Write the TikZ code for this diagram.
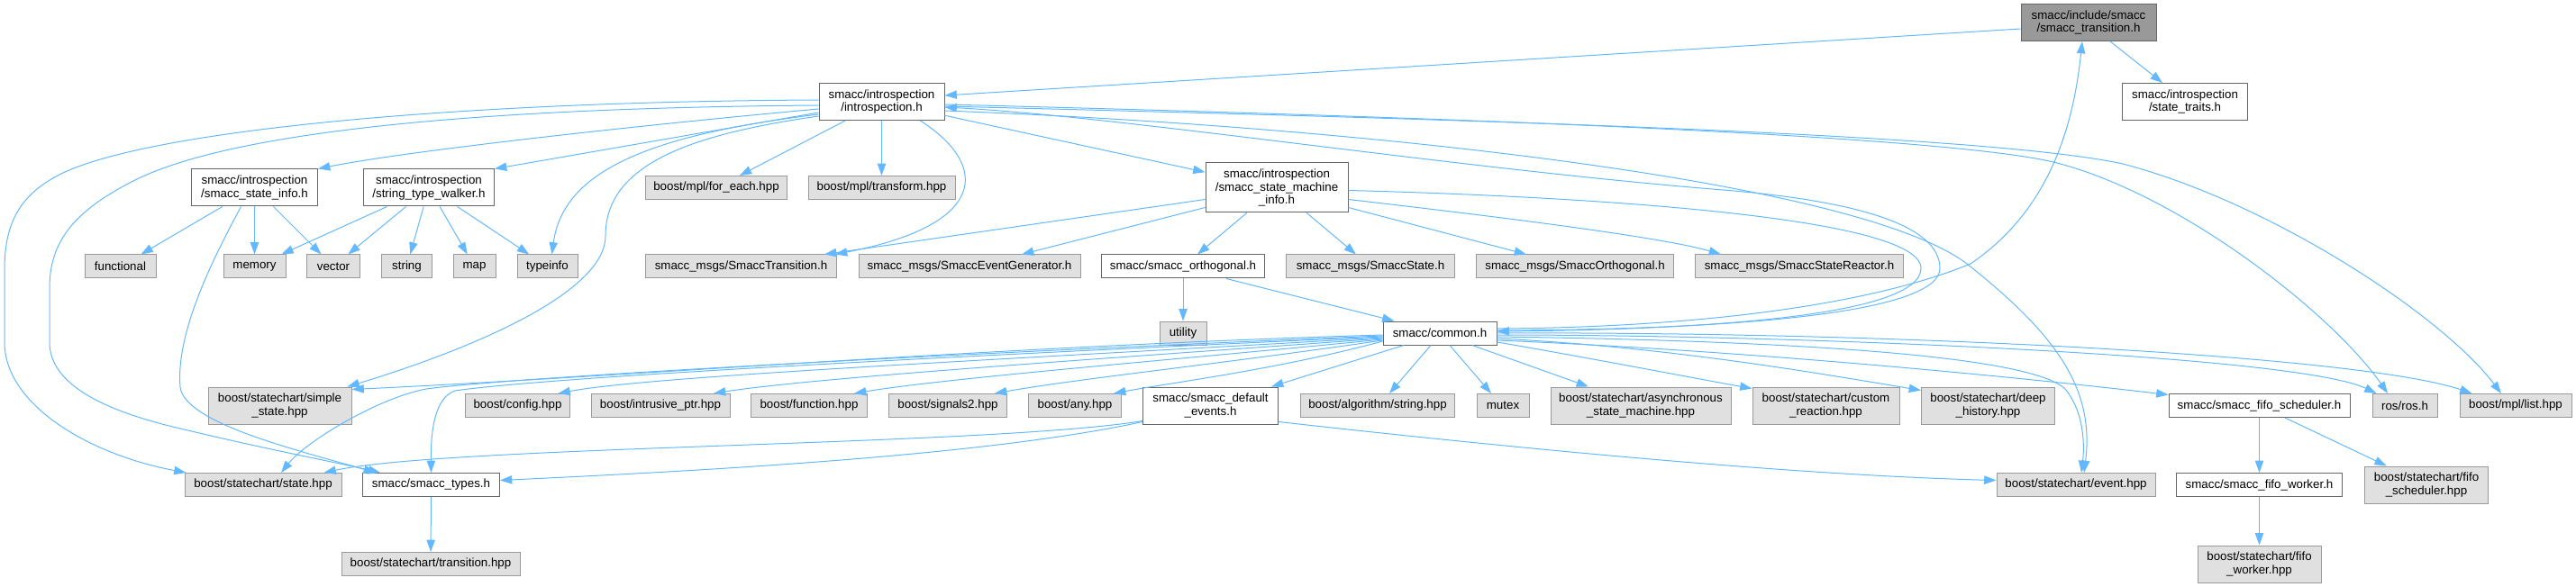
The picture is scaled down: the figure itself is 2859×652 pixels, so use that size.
\documentclass[tikz,border=0pt]{standalone}
\usepackage{fontspec}
\setmainfont{Liberation Sans}
\usetikzlibrary{arrows.meta,calc}
\definecolor{ecol}{HTML}{63B8FF}
\definecolor{gfill}{HTML}{E0E0E0}
\definecolor{gline}{HTML}{999999}
\definecolor{wline}{HTML}{666666}
\definecolor{rfill}{HTML}{999999}
\tikzset{
  base/.style={inner sep=0pt, align=center, font=\fontsize{10}{10.75}\selectfont, line width=0.75pt},
  gbox/.style={base, draw=gline, fill=gfill},
  wbox/.style={base, draw=wline, fill=white},
  rbox/.style={base, draw=wline, fill=rfill},
  sz/.style 2 args={minimum width=#1*0.75pt, minimum height=#2*0.75pt},
  dep/.style={draw=ecol, line width=0.75pt, -{Triangle[length=10pt,width=7pt]}},
}
\begin{document}
\begin{tikzpicture}[x=0.75pt,y=-0.75pt]
\useasboundingbox (0,0) rectangle (2859,652);
% row 0
\node[rbox, sz={150}{41}] (T) at (2318,25) {smacc/include/smacc\\/smacc\_transition.h};
% row 1
\node[wbox, sz={139}{41}] (ST) at (2425,113) {smacc/introspection\\/state\_traits.h};
\node[wbox, sz={139}{41}] (I) at (978.5,113) {smacc/introspection\\/introspection.h};
% row 2
\node[wbox, sz={140}{41}] (SI) at (282.5,208.5) {smacc/introspection\\/smacc\_state\_info.h};
\node[wbox, sz={145}{41}] (SW) at (476,208.5) {smacc/introspection\\/string\_type\_walker.h};
\node[gbox, sz={157}{26}] (FE) at (795,208.5) {boost/mpl/for\_each.hpp};
\node[gbox, sz={163}{26}] (TR) at (978.5,208.5) {boost/mpl/transform.hpp};
\node[wbox, sz={158}{55}] (SM) at (1417,208.5) {smacc/introspection\\/smacc\_state\_machine\\\_info.h};
% row 3
\node[gbox, sz={79}{26}] (func) at (133.5,296) {functional};
\node[gbox, sz={69}{26}] (mem) at (282.5,296) {memory};
\node[gbox, sz={59}{26}] (vec) at (370,296) {vector};
\node[gbox, sz={56}{26}] (str) at (451.5,296) {string};
\node[gbox, sz={47}{26}] (map) at (526.5,296) {map};
\node[gbox, sz={67}{26}] (tinfo) at (607.5,296) {typeinfo};
\node[gbox, sz={212}{26}] (STR) at (822.5,296) {smacc\_msgs/SmaccTransition.h};
\node[gbox, sz={246}{26}] (SEG) at (1076,296) {smacc\_msgs/SmaccEventGenerator.h};
\node[wbox, sz={181}{26}] (ORT) at (1313,296) {smacc/smacc\_orthogonal.h};
\node[gbox, sz={187}{26}] (SST) at (1521,296) {smacc\_msgs/SmaccState.h};
\node[gbox, sz={219}{26}] (SOR) at (1748,296) {smacc\_msgs/SmaccOrthogonal.h};
\node[gbox, sz={231}{26}] (SSR) at (1997,296) {smacc\_msgs/SmaccStateReactor.h};
% row 4
\node[gbox, sz={52}{26}] (util) at (1313,370) {utility};
\node[wbox, sz={126}{26}] (C) at (1598,370) {smacc/common.h};
% row 5
\node[gbox, sz={159}{41}] (SS) at (310.5,450.5) {boost/statechart/simple\\\_state.hpp};
\node[gbox, sz={116}{26}] (cfg) at (574.5,450.5) {boost/config.hpp};
\node[gbox, sz={154}{26}] (iptr) at (733,450.5) {boost/intrusive\_ptr.hpp};
\node[gbox, sz={129}{26}] (fun) at (898,450.5) {boost/function.hpp};
\node[gbox, sz={131}{26}] (sig) at (1052,450.5) {boost/signals2.hpp};
\node[gbox, sz={103}{26}] (any) at (1193,450.5) {boost/any.hpp};
\node[wbox, sz={150}{41}] (DE) at (1343.5,450.5) {smacc/smacc\_default\\\_events.h};
\node[gbox, sz={171}{26}] (alg) at (1529,450.5) {boost/algorithm/string.hpp};
\node[gbox, sz={58}{26}] (mtx) at (1668,450.5) {mutex};
\node[gbox, sz={200}{41}] (async) at (1821,450.5) {boost/statechart/asynchronous\\\_state\_machine.hpp};
\node[gbox, sz={163}{41}] (cust) at (2026.5,450.5) {boost/statechart/custom\\\_reaction.hpp};
\node[gbox, sz={148}{41}] (deep) at (2206.5,450.5) {boost/statechart/deep\\\_history.hpp};
\node[wbox, sz={201}{26}] (FS) at (2507.5,450.5) {smacc/smacc\_fifo\_scheduler.h};
\node[gbox, sz={72}{26}] (ros) at (2669,450.5) {ros/ros.h};
\node[gbox, sz={124}{26}] (list) at (2792,450.5) {boost/mpl/list.hpp};
% row 6
\node[gbox, sz={174}{26}] (state) at (292,538.5) {boost/statechart/state.hpp};
\node[wbox, sz={152}{26}] (types) at (478.5,538.5) {smacc/smacc\_types.h};
\node[gbox, sz={176}{26}] (event) at (2304,538.5) {boost/statechart/event.hpp};
\node[wbox, sz={184}{26}] (FW) at (2507.5,538.5) {smacc/smacc\_fifo\_worker.h};
\node[gbox, sz={137}{41}] (SFS) at (2693,538.5) {boost/statechart/fifo\\\_scheduler.hpp};
% row 7
\node[gbox, sz={198}{26}] (trans) at (478,626.5) {boost/statechart/transition.hpp};
\node[gbox, sz={137}{41}] (SFW) at (2507.5,626.5) {boost/statechart/fifo\\\_worker.hpp};

% ---- edges from T
\draw[dep] ($(T.west)+(0,7)$) -- ($(I.east)+(0,-7)$);
\draw[dep] ($(T.south)+(24,0)$) -- ($(ST.north)+(-25,0)$);
% common -> T
\draw[dep] ($(C.east)+(0,-5)$) .. controls (1850,364) and (2060,345) .. (2187,293) .. controls (2280,230) and (2302,130) .. ($(T.south)+(-7,0)$);
% common -> introspection
\draw[dep] ($(C.east)+(0,-3)$) .. controls (1950,366) and (2153,345) .. (2153,298) .. controls (2153,250) and (2060,222) .. (1900,210) .. controls (1600,185) and (1250,130) .. ($(I.east)+(0,6)$);
% SM -> common
\draw[dep] ($(SM.east)+(0,3)$) .. controls (1750,218) and (2132,240) .. (2132,298) .. controls (2132,350) and (1900,366) .. ($(C.east)+(0,-2)$);
% introspection -> right side
\draw[dep] ($(I.east)+(0,10)$) .. controls (1500,140) and (2060,200) .. (2183,293) .. controls (2280,370) and (2325,430) .. ($(event.north)+(9,0)$);
\draw[dep] ($(I.east)+(0,3)$) .. controls (1600,130) and (2150,150) .. (2279,180) .. controls (2420,215) and (2590,350) .. ($(ros.north)+(-19,0)$);
\draw[dep] ($(I.east)+(0,5)$) .. controls (1600,132) and (2200,148) .. (2356,182) .. controls (2520,225) and (2710,350) .. ($(list.north)+(-16,0)$);
% introspection -> left side
\draw[dep] ($(I.west)+(0,8)$) .. controls (700,140) and (450,168) .. (SI.north east);
\draw[dep] ($(I.west)+(0,12)$) -- (SW.north east);
\draw[dep] ($(I.west)+(0,14)$) .. controls (720,150) and (625,190) .. ($(tinfo.north)+(5,0)$);
\draw[dep] ($(I.west)+(0,16)$) .. controls (760,150) and (672,185) .. (672,262) .. controls (672,330) and (500,395) .. ($(SS.north east)+(-5,0)$);
\draw[dep] ($(I.west)+(0,-2)$) .. controls (500,113) and (170,145) .. (70,192) .. controls (20,216) and (5,250) .. (5,300) -- (5,380) .. controls (5,450) and (100,505) .. ($(state.north west)+(2,0)$);
\draw[dep] ($(I.west)+(0,4)$) .. controls (500,120) and (250,150) .. (150,200) .. controls (80,235) and (55,270) .. (55,320) -- (55,380) .. controls (55,425) and (110,455) .. (200,476) .. controls (300,500) and (380,515) .. ($(types.north west)+(20,0)$);
\draw[dep] ($(SI.south)+(-15,0)$) .. controls (235,290) and (195,370) .. (200,430) .. controls (205,470) and (330,500) .. ($(types.north west)+(15,0)$);
% introspection -> below
\draw[dep] (I) -- (FE);
\draw[dep] (I) -- (TR);
\draw[dep] ($(I.south)+(43,0)$) .. controls (1100,185) and (1095,250) .. ($(STR.north east)+(-2,0)$);
\draw[dep] (I) -- (SM);
% state machine info
\draw[dep] (SM) -- (ORT);
\draw[dep] ($(SM.west)+(0,13)$) -- ($(STR.north east)+(-14,0)$);
\draw[dep] ($(SM.west)+(0,22)$) -- ($(SEG.north)+(58,0)$);
\draw[dep] (SM) -- (SST);
\draw[dep] ($(SM.east)+(0,22)$) -- ($(SOR.north)+(-54,0)$);
\draw[dep] ($(SM.east)+(0,13)$) .. controls (1700,245) and (1850,265) .. ($(SSR.north)+(-87,0)$);
% orthogonal
\draw[dep] (ORT) -- (util);
\draw[dep] ($(ORT.south)+(48,0)$) -- ($(C.north west)+(13,0)$);
% state info / walker
\draw[dep] (SI) -- (func);
\draw[dep] (SI) -- (mem);
\draw[dep] (SI) -- (vec);
\draw[dep] (SW) -- (mem);
\draw[dep] (SW) -- (vec);
\draw[dep] (SW) -- (str);
\draw[dep] (SW) -- (map);
\draw[dep] (SW) -- (tinfo);
% common -> left
\draw[dep] ($(C.west)+(0,2)$) .. controls (1100,385) and (700,418) .. ($(SS.east)+(0,-18)$);
\draw[dep] ($(C.west)+(0,3)$) .. controls (1000,395) and (560,420) .. (473,432) .. controls (420,442) and (340,490) .. ($(state.north)+(20,0)$);
\draw[dep] ($(C.west)+(0,4)$) .. controls (1000,398) and (600,420) .. (505,434) .. controls (482,442) and (478,480) .. (types.north);
\draw[dep] ($(C.west)+(0,5)$) .. controls (1100,400) and (720,418) .. ($(cfg.north)+(45,0)$);
\draw[dep] ($(C.west)+(0,6)$) .. controls (1200,400) and (900,420) .. ($(iptr.north)+(59,0)$);
\draw[dep] ($(C.west)+(0,7)$) .. controls (1300,400) and (1050,420) .. ($(fun.north)+(50,0)$);
\draw[dep] ($(C.west)+(0,8)$) .. controls (1350,405) and (1200,420) .. ($(sig.north)+(52,0)$);
\draw[dep] ($(C.west)+(0,9)$) .. controls (1420,410) and (1300,425) .. ($(any.north)+(43,0)$);
% common -> below
\draw[dep] ($(C.south)+(-40,0)$) -- ($(DE.north east)+(-8,0)$);
\draw[dep] ($(C.south)+(-10,0)$) -- ($(alg.north)+(13,0)$);
\draw[dep] ($(C.south)+(11,0)$) -- ($(mtx.north)+(-13,0)$);
\draw[dep] ($(C.south)+(36,0)$) -- ($(async.north)+(-58,0)$);
% common -> right
\draw[dep] ($(C.east)+(0,10)$) .. controls (1750,395) and (1880,420) .. ($(cust.north west)+(0,2)$);
\draw[dep] ($(C.east)+(0,6)$) .. controls (1850,385) and (2020,415) .. ($(deep.west)+(0,-17)$);
\draw[dep] ($(C.east)+(0,4)$) .. controls (1950,378) and (2250,392) .. (2292,432) .. controls (2315,460) and (2313,500) .. ($(event.north)+(6,0)$);
\draw[dep] ($(C.east)+(0,8)$) .. controls (1950,390) and (2250,420) .. ($(FS.west)+(0,-12)$);
\draw[dep] ($(C.east)+(0,2)$) .. controls (2000,372) and (2550,395) .. ($(ros.north west)+(5,0)$);
\draw[dep] ($(C.east)+(0,0)$) .. controls (2100,368) and (2620,395) .. ($(list.north west)+(14,0)$);
% default events
\draw[dep] ($(DE.west)+(0,17)$) .. controls (1100,495) and (500,495) .. ($(state.north east)+(-20,0)$);
\draw[dep] ($(DE.west)+(0,18)$) .. controls (1100,505) and (800,522) .. ($(types.east)+(0,-5)$);
\draw[dep] ($(DE.east)+(0,18)$) .. controls (1700,500) and (2000,528) .. ($(event.west)+(0,-5)$);
% bottom
\draw[dep] (types) -- (trans);
\draw[dep] (FS) -- (FW);
\draw[dep] (FS) -- (SFS);
\draw[dep] (FW) -- (SFW);
\end{tikzpicture}
\end{document}
